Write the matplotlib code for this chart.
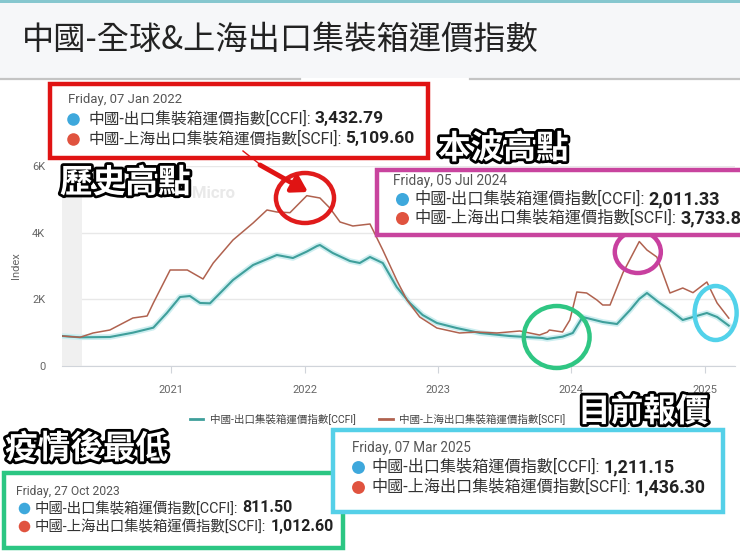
import numpy as np
import matplotlib
matplotlib.use('Agg')
import matplotlib.pyplot as plt
import matplotlib.dates as mdates
from matplotlib.patches import Rectangle, Ellipse
from matplotlib.lines import Line2D
import matplotlib.patheffects as pe

CJK = ['Roboto', 'Noto Sans CJK TC', 'DejaVu Sans']
plt.rcParams['font.family'] = CJK

ccfi_dates = ['2020-03-08', '2020-04-26', '2020-07-17', '2020-09-18', '2020-11-13',
              '2020-12-20', '2021-01-25', '2021-02-21', '2021-03-21', '2021-04-17',
              '2021-06-19', '2021-08-13', '2021-10-17', '2021-11-30', '2022-01-07',
              '2022-02-04', '2022-02-12', '2022-03-19', '2022-05-05', '2022-06-01',
              '2022-06-29', '2022-08-03', '2022-09-10', '2022-10-16', '2022-11-20',
              '2022-12-29', '2023-02-21', '2023-04-26', '2023-07-16', '2023-10-14',
              '2023-10-27', '2023-12-08', '2024-01-05', '2024-02-01', '2024-03-27',
              '2024-05-05', '2024-06-10', '2024-07-05', '2024-07-26', '2024-08-30',
              '2024-09-27', '2024-11-01', '2024-11-29', '2025-01-06', '2025-02-03',
              '2025-03-07']
ccfi_values = [900, 860, 870, 1000, 1150,
               1590, 2070, 2100, 1890, 1880,
               2580, 3030, 3330, 3240, 3433,
               3600, 3630, 3390, 3150, 3090,
               3270, 3090, 2370, 1890, 1530,
               1290, 1140, 990, 900, 840,
               811.5, 880, 990, 1470, 1320,
               1260, 1680, 2011, 2190, 1890,
               1680, 1380, 1470, 1590, 1470,
               1211]

scfi_dates = ['2020-03-08', '2020-04-26', '2020-06-01', '2020-07-17', '2020-09-18',
              '2020-10-27', '2020-11-13', '2020-12-29', '2021-02-14', '2021-03-29',
              '2021-04-26', '2021-06-19', '2021-08-13', '2021-09-20', '2021-10-17',
              '2021-11-22', '2022-01-07', '2022-02-12', '2022-03-11', '2022-04-08',
              '2022-05-13', '2022-06-29', '2022-08-03', '2022-09-10', '2022-10-08',
              '2022-11-12', '2022-12-29', '2023-03-01', '2023-04-17', '2023-06-11',
              '2023-08-13', '2023-10-06', '2023-10-27', '2023-11-02', '2023-12-08',
              '2023-12-28', '2024-01-16', '2024-02-12', '2024-03-11', '2024-03-27',
              '2024-04-16', '2024-05-21', '2024-07-05', '2024-07-26', '2024-08-22',
              '2024-09-27', '2024-11-01', '2024-11-29', '2025-01-06', '2025-02-03',
              '2025-03-07']
scfi_values = [900, 860, 990, 1080, 1440,
               1500, 1890, 2880, 2880, 2610,
               3090, 3780, 4290, 4680, 4620,
               4600, 5110, 5040, 4740, 4320,
               4200, 4260, 3480, 2580, 1980,
               1470, 1140, 990, 1020, 990,
               1050, 930, 1013, 1080, 1020,
               1380, 2220, 2190, 1980, 1830,
               1830, 2790, 3734, 3480, 3270,
               2190, 2340, 2200, 2520, 1890,
               1436]

ccfi_name = '中國-出口集裝箱運價指數[CCFI]'
scfi_name = '中國-上海出口集裝箱運價指數[SCFI]'
title = '中國-全球&上海出口集裝箱運價指數'

# tooltips: date, ccfi, scfi
tips = [('Friday, 07 Jan 2022', '3,432.79', '5,109.60'),
        ('Friday, 05 Jul 2024', '2,011.33', '3,733.80'),
        ('Friday, 27 Oct 2023', '811.50', '1,012.60'),
        ('Friday, 07 Mar 2025', '1,211.15', '1,436.30')]

c_ccfi = '#3f9f9b'
c_scfi = '#b0624f'

W, H = 740, 555
fig = plt.figure(figsize=(W / 100, H / 100), dpi=100)
fig.patch.set_facecolor('white')

# background / header
bg = fig.add_axes([0, 0, 1, 1])
bg.set_xlim(0, W)
bg.set_ylim(H, 0)
bg.axis('off')
bg.add_patch(Rectangle((0, 0), W, 78, color='#f6f7f9', lw=0))
bg.add_patch(Rectangle((0, 0), W, 3, color='#86c7cf', lw=0))
bg.plot([0, 300], [79, 79], color='#c4c4c4', lw=1.6)
bg.plot([470, W], [79, 79], color='#c4c4c4', lw=1.6)
bg.text(22, 40, title, fontsize=23.2, color='#222222', va='center', ha='left',
        family=['Noto Sans CJK TC', 'DejaVu Sans'])
bg.text(192, 193, 'Micro', fontsize=12, color='#e9e9e9', fontweight='bold',
        va='center', ha='left')

# main chart
ax = fig.add_axes([62 / W, 1 - 366 / H, (735 - 62) / W, 200 / H])
ax.patch.set_alpha(0)
cd = np.array(ccfi_dates, dtype='datetime64[D]')
sd = np.array(scfi_dates, dtype='datetime64[D]')
ax.axvspan(np.datetime64('2020-03-08'), np.datetime64('2020-05-01'), color='#f0f0f0', lw=0)
ax.plot(cd, ccfi_values, color=c_ccfi, lw=1.5, zorder=3,
        path_effects=[pe.Stroke(linewidth=4, foreground='#cdeef0'), pe.Normal()])
ax.plot(sd, scfi_values, color=c_scfi, lw=1.1, zorder=4)
ax.set_xlim(np.datetime64('2020-03-08'), np.datetime64('2025-03-24'))
ax.set_ylim(0, 6000)
ax.set_yticks([0, 2000, 4000, 6000])
ax.set_yticklabels(['0', '2K', '4K', '6K'])
ax.xaxis.set_major_locator(mdates.YearLocator())
ax.xaxis.set_major_formatter(mdates.DateFormatter('%Y'))
ax.grid(axis='y', color='#e8e8e8', lw=1)
ax.set_axisbelow(True)
for s in ['top', 'right', 'left']:
    ax.spines[s].set_visible(False)
ax.spines['bottom'].set_color('#d0d4da')
ax.tick_params(axis='y', length=0, pad=12, labelsize=8, labelcolor='#666666')
ax.tick_params(axis='x', length=5, color='#d0d4da', pad=9, labelsize=8, labelcolor='#666666')
ax.set_ylabel('Index', fontsize=8, color='#666666', labelpad=8)

# highlight circles
def ring(center, value, days, height, color):
    ax.add_patch(Ellipse((mdates.date2num(np.datetime64(center)), value), days, height,
                         fill=False, ec=color, lw=3.2, zorder=6, clip_on=False))

ring('2022-01-02', 5040, 159, 1500, '#e01b1b')
ring('2024-07-01', 3420, 126, 1260, '#c8409f')
ring('2023-11-22', 870, 180, 1860, '#2fc683')
ring('2025-01-30', 1590, 115, 1620, '#52d2ea')

fig.legend(handles=[Line2D([], [], color=c_ccfi, lw=2), Line2D([], [], color=c_scfi, lw=2)],
           labels=[ccfi_name, scfi_name], loc='center', bbox_to_anchor=(0.51, 1 - 419 / H),
           ncol=2, frameon=False, fontsize=7.6, handlelength=1.3, columnspacing=2.2,
           handletextpad=0.6, labelcolor='#444444')

# annotation layer
ov = fig.add_axes([0, 0, 1, 1])
ov.set_xlim(0, W)
ov.set_ylim(H, 0)
ov.axis('off')
ov.patch.set_alpha(0)


def tip(x0, y0, w, h, color, info, fs, date_dx, dot_dx, txt_dx, rows):
    date, v1, v2 = info
    ov.add_patch(Rectangle((x0, y0), w, h, fc='white', ec=color, lw=3.2, clip_on=False))
    ov.text(x0 + date_dx, y0 + rows[0], date, fontsize=fs * 0.84, color='#555555',
            va='center', ha='left')
    for name, val, dot, dy in [(ccfi_name, v1, '#3ea8dc', rows[1]), (scfi_name, v2, '#e0533f', rows[2])]:
        ov.plot(x0 + dot_dx, y0 + dy, 'o', ms=fs * 0.8, color=dot, mec='none')
        t = ov.text(x0 + txt_dx, y0 + dy, name + ':', fontsize=fs, color='#333333',
                    va='center', ha='left')
        ov.annotate(val, xy=(1, 0.5), xycoords=t, xytext=(3, 0), textcoords='offset points',
                    fontsize=fs * 1.11, fontweight='bold', color='#222222', va='center', ha='left')


tip(50, 84, 378, 74, '#e01313', tips[0], 11.3, 18, 23, 38, (16, 35, 55))
tip(377, 170, 370, 65, '#c8449e', tips[1], 11.7, 16, 25, 37, (11, 29, 48))
tip(4, 473, 339, 75, '#2cc683', tips[2], 10.4, 12, 20, 31, (18, 35, 53))
tip(333, 430, 390, 82, '#55d0e8', tips[3], 11.6, 19, 25, 38, (18, 37, 57))

# red arrow
ov.plot([243, 262], [151, 166], color='#e01313', lw=1)
ov.annotate('', xy=(308, 192), xytext=(260, 165),
            arrowprops=dict(arrowstyle='-|>,head_length=0.9,head_width=0.55',
                            color='#e01313', lw=3.5, shrinkA=0, shrinkB=0))

stroke = [pe.withStroke(linewidth=4, foreground='black')]
for s, x, y in [('歷史高點', 60, 183), ('本波高點', 438, 149),
                ('目前報價', 578, 412), ('疫情後最低', 5, 449)]:
    ov.text(x, y, s, fontsize=23.5, color='white', fontweight='bold', va='center', ha='left',
            family=['Noto Sans CJK TC', 'DejaVu Sans'], path_effects=stroke)

fig.savefig('out.png', dpi=100)
